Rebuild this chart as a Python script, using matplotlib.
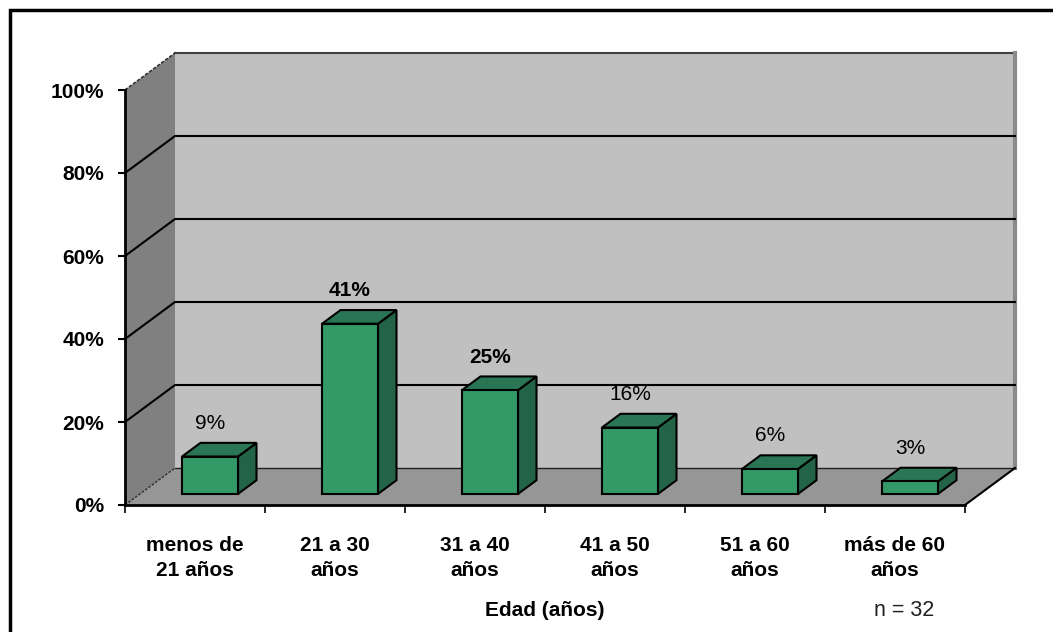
import numpy as np
import matplotlib
matplotlib.use('Agg')
import matplotlib.pyplot as plt
from matplotlib.patches import Polygon, Rectangle

# data
categories = ['menos de\n21 años', '21 a 30\naños', '31 a 40\naños',
              '41 a 50\naños', '51 a 60\naños', 'más de 60\naños']
values = [9, 41, 25, 16, 6, 3]
yticks = [0, 20, 40, 60, 80, 100]
ytick_labels = ['0%', '20%', '40%', '60%', '80%', '100%']
xlabel = 'Edad (años)'
note = 'n = 32'

plt.rcParams['font.family'] = ['Liberation Sans', 'DejaVu Sans']

# fake 3d depth, in data units (category width = 1, y in percent)
DX = 50 / 140.
DY = 37 / 4.15


def p(x, y, d):
    return (x + d * DX, y + d * DY)


def face(ax, pts, fc, ec='black', lw=1.5, z=1):
    ax.add_patch(Polygon(pts, closed=True, fc=fc, ec=ec, lw=lw, zorder=z,
                         joinstyle='miter'))


fig = plt.figure(figsize=(10.53, 6.32), dpi=100)
ax = fig.add_axes([0, 0, 1, 1])
ax.set_facecolor('white')
n = len(categories)
ax.set_xlim(-125 / 140., (1053 - 125) / 140.)
ax.set_ylim((505 - 632) / 4.15, 505 / 4.15)

# walls and floor
face(ax, [p(0, 0, 1), p(n, 0, 1), p(n, 100, 1), p(0, 100, 1)], '#c0c0c0', ec='none', z=0)
face(ax, [p(0, 0, 0), p(0, 0, 1), p(0, 100, 1), p(0, 100, 0)], '#808080', ec='none', z=0)
face(ax, [p(0, 0, 0), p(n, 0, 0), p(n, 0, 1), p(0, 0, 1)], '#969696', ec='none', z=0)
xs, ys = zip(p(0, 100, 1), p(n, 100, 1))
ax.plot(xs, ys, c='#404040', lw=1.5, zorder=0.5)
xs, ys = zip(p(n, 0, 1), p(n, 100, 1))
ax.plot(xs, ys, c='#8a8a8a', lw=3, zorder=0.5)
xs, ys = zip(p(0, 100, 0), p(0, 100, 1))
ax.plot(xs, ys, c='#303030', lw=1.2, ls=(0, (2, 1)), zorder=0.5)

# gridlines over left wall and back wall
for yv in yticks[1:-1]:
    xs, ys = zip(p(0, yv, 0), p(0, yv, 1), p(n, yv, 1))
    ax.plot(xs, ys, c='black', lw=1.5, zorder=0.6)
xs, ys = zip(p(0, 0, 1), p(n, 0, 1))
ax.plot(xs, ys, c='#202020', lw=1, zorder=0.6)
xs, ys = zip(p(0, 0, 0), p(0, 0, 1))
ax.plot(xs, ys, c='#303030', lw=1, ls=(0, (2, 1)), zorder=0.6)
xs, ys = zip(p(n, 0, 0), p(n, 0, 1))
ax.plot(xs, ys, c='black', lw=1.5, zorder=0.6)

# bars
w = 0.4
d0, d1 = 0.3, 0.67
for i, v in enumerate(values):
    x0 = i + 0.5 - w / 2
    x1 = i + 0.5 + w / 2
    face(ax, [p(x1, 0, d0), p(x1, 0, d1), p(x1, v, d1), p(x1, v, d0)], '#236447', z=2)
    face(ax, [p(x0, v, d0), p(x1, v, d0), p(x1, v, d1), p(x0, v, d1)], '#2a7553', z=2)
    face(ax, [p(x0, 0, d0), p(x1, 0, d0), p(x1, v, d0), p(x0, v, d0)], '#339966', z=3)
    cx, cy = p(i + 0.5, v, d1)
    ax.annotate('%d%%' % v, xy=(p(i + 0.5, v, d0)[0], cy), xytext=(0, 14),
                textcoords='offset points', ha='center', va='center',
                fontsize=15, fontweight='bold' if v > 20 else 'normal', zorder=4)

# axes lines and ticks
for s in ['top', 'right']:
    ax.spines[s].set_visible(False)
ax.spines['left'].set_position(('data', 0))
ax.spines['bottom'].set_position(('data', 0))
ax.spines['left'].set_bounds(0, 100)
ax.spines['bottom'].set_bounds(0, n)
ax.spines['left'].set_linewidth(2)
ax.spines['bottom'].set_linewidth(2)
ax.spines['left'].set_zorder(5)
ax.spines['bottom'].set_zorder(5)

ax.set_yticks(yticks)
ax.set_yticklabels(ytick_labels, fontsize=15, fontweight='bold')
ax.tick_params(axis='y', direction='out', length=5, width=1.5, pad=10)

ax.set_xticks(np.arange(n + 1))
ax.set_xticklabels([])
ax.tick_params(axis='x', which='major', direction='out', length=6, width=1.2)
ax.set_xticks(np.arange(n) + 0.5, minor=True)
ax.set_xticklabels(categories, minor=True, fontsize=15, fontweight='bold',
                   linespacing=1.45)
ax.tick_params(axis='x', which='minor', length=0, pad=22)

ax.text(3, (505 - 610) / 4.15, xlabel, ha='center', va='center',
        fontsize=15, fontweight='bold')
ax.text((904 - 125) / 140., (505 - 610) / 4.15, note, ha='center', va='center',
        fontsize=15.5, color='#202020')

# outer frame (runs off the right and bottom edge)
fig.patches.append(Rectangle((10 / 1053., -0.1), 1.2, 1 - 10 / 632. + 0.1,
                             transform=fig.transFigure, fill=False,
                             ec='black', lw=2.5))

plt.savefig('out.png', dpi=100)
plt.close()
